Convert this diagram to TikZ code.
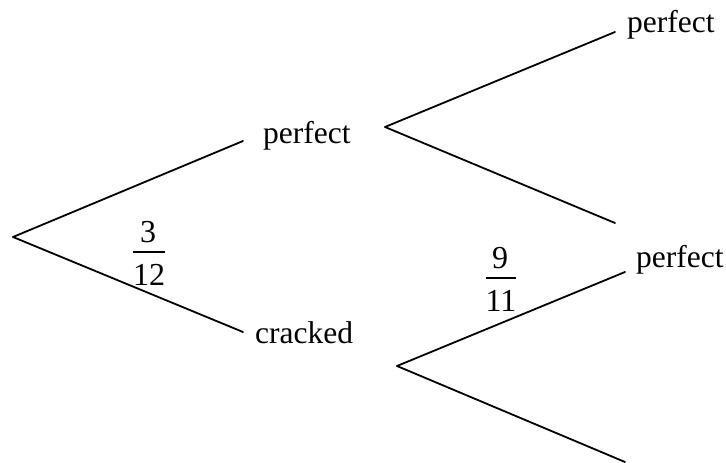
\documentclass[tikz,border=0pt]{standalone}
\usepackage{fontspec}
\setmainfont{Liberation Serif}
\begin{document}
\begin{tikzpicture}[x=1pt,y=-1pt,
  branch/.style={line width=1.8pt, line cap=round},
  lbl/.style={anchor=base west, inner sep=0pt, font=\fontsize{31.5}{37}\selectfont},
  num/.style={anchor=base, inner sep=0pt, font=\fontsize{32}{37}\selectfont},
  fbar/.style={line width=1.5pt}]
\useasboundingbox (0,0) rectangle (726,463);
% branch points
\coordinate (r) at (13,237);
\coordinate (pe) at (243,141);
\coordinate (ce) at (243,332);
\coordinate (p1) at (385,127);
\coordinate (p1a) at (615,32);
\coordinate (p1b) at (615,223);
\coordinate (c1) at (397,366);
\coordinate (c1a) at (625,272);
\coordinate (c1b) at (625,462);
% connectors
\draw[branch] (r) -- (pe);
\draw[branch] (r) -- (ce);
\draw[branch] (p1) -- (p1a);
\draw[branch] (p1) -- (p1b);
\draw[branch] (c1) -- (c1a);
\draw[branch] (c1) -- (c1b);
% labels
\node[lbl] (perf) at (263,143) {perfect};
\node[lbl] (crack) at (255,343) {cracked};
\node[lbl] (pp) at (627,32) {perfect};
\node[lbl] (cp) at (636,267) {perfect};
% fractions
\node[num] (n1) at (148,242) {3};
\node[num] (d1) at (149,285) {12};
\coordinate (b1l) at (133,252);
\coordinate (b1r) at (165,252);
\draw[fbar] (b1l) -- (b1r);
\node[num] (n2) at (500,268) {9};
\node[num] (d2) at (501,311) {11};
\coordinate (b2l) at (486,278);
\coordinate (b2r) at (516,278);
\draw[fbar] (b2l) -- (b2r);
\end{tikzpicture}
\end{document}
